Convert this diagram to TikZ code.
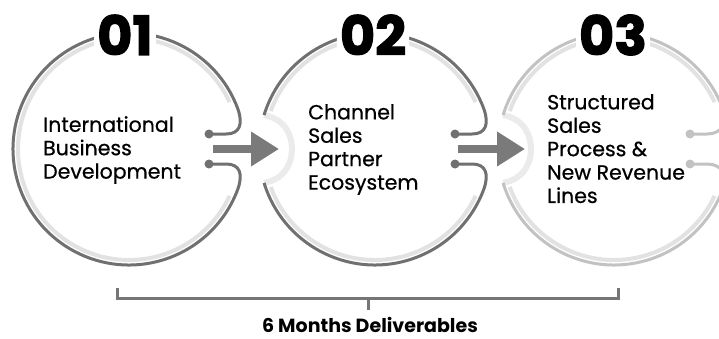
\documentclass[tikz,border=0pt]{standalone}
\usepackage{fontspec}
\setmainfont{Poppins}
\newfontfamily\medfont{Poppins}[FakeBold=0.6]
\newfontfamily\numfont{Poppins}[BoldFeatures={FakeBold=2.2}]
\usetikzlibrary{arrows.meta}
\definecolor{ringdark}{HTML}{707070}
\definecolor{ringlight}{HTML}{C2C2C2}
\definecolor{arrowgray}{HTML}{7A7A7A}
\definecolor{innerband}{HTML}{E2E2E2}
\definecolor{softshade}{HTML}{EBEBEB}
\definecolor{bracketgray}{HTML}{767676}
\tikzset{
  ring/.style={line width=3pt, draw=#1},
  band/.style={line width=4pt, draw=innerband},
  notch/.style={line width=6pt, draw=softshade},
  dotc/.style={fill=#1},
  flowarrow/.style={line width=8pt, draw=arrowgray, -{Triangle[length=28pt,width=33pt]}},
  numlabel/.style={font=\numfont\fontsize{54}{54}\bfseries, fill=white, rounded corners=12pt, inner sep=3pt, anchor=base},
  bodytext/.style={font=\medfont\fontsize{20.5}{23.4}\selectfont, align=left, anchor=north west, inner sep=0pt},
  bracket/.style={line width=3pt, draw=bracketgray},
}
\begin{document}
\begin{tikzpicture}[x=1pt,y=1pt]
\useasboundingbox (0,0) rectangle (719,338);
\clip (0,0) rectangle (719,338);
\fill[white] (0,0) rectangle (719,338);

% ---------- circle 1 ----------
\begin{scope}[shift={(129,189)}]
  \draw[band] (25:111) arc[start angle=25,end angle=335,radius=111];
  \draw[ring=ringdark] (80,15) -- (97,15) .. controls (111,15) and (114,25) .. (20:116)
     arc[start angle=20,end angle=340,radius=116]
     .. controls (114,-25) and (111,-15) .. (97,-15) -- (80,-15);
  \fill[dotc=ringdark] (80,15) circle (4.5);
  \fill[dotc=ringdark] (80,-15) circle (4.5);
\end{scope}

% ---------- circle 2 ----------
\begin{scope}[shift={(375,189)}]
  \draw[notch] (163:116) .. controls (-90,30) and (-83,14) .. (-83,0) .. controls (-83,-14) and (-90,-30) .. (197:116);
  \draw[band] (25:111) arc[start angle=25,end angle=160,radius=111];
  \draw[band] (200:111) arc[start angle=200,end angle=335,radius=111];
  \draw[ring=ringdark] (80,15) -- (97,15) .. controls (111,15) and (114,25) .. (20:116)
     arc[start angle=20,end angle=163,radius=116];
  \draw[ring=ringdark] (197:116) arc[start angle=197,end angle=340,radius=116]
     .. controls (114,-25) and (111,-15) .. (97,-15) -- (80,-15);
  \fill[dotc=ringdark] (80,15) circle (4.5);
  \fill[dotc=ringdark] (80,-15) circle (4.5);
\end{scope}

% ---------- circle 3 ----------
\begin{scope}[shift={(614,189)}]
  \draw[notch] (163:116) .. controls (-90,30) and (-83,14) .. (-83,0) .. controls (-83,-14) and (-90,-30) .. (197:116);
  \draw[band] (25:111) arc[start angle=25,end angle=160,radius=111];
  \draw[band] (200:111) arc[start angle=200,end angle=335,radius=111];
  \draw[ring=ringlight] (76,15) -- (93,15) .. controls (107,15) and (114,25) .. (20:116)
     arc[start angle=20,end angle=163,radius=116];
  \draw[ring=ringlight] (197:116) arc[start angle=197,end angle=340,radius=116]
     .. controls (114,-25) and (107,-15) .. (93,-15) -- (76,-15);
  \fill[dotc=ringlight] (76,15) circle (4.5);
  \fill[dotc=ringlight] (76,-15) circle (4.5);
\end{scope}

% ---------- arrows ----------
\coordinate (a1s) at (213,189);
\coordinate (a1e) at (279,189);
\coordinate (a2s) at (458,189);
\coordinate (a2e) at (525,189);
\draw[flowarrow] (a1s) -- (a1e);
\draw[flowarrow] (a2s) -- (a2e);

% ---------- numbers ----------
\node[numlabel] (n1) at (125,283) {01};
\node[numlabel] (n2) at (373,283) {02};
\node[numlabel] (n3) at (613,283) {03};

% ---------- texts ----------
\node[bodytext] (t1) at (43,222) {International\\Business\\Development};
\node[bodytext] (t2) at (308,234) {Channel\\Sales\\Partner\\Ecosystem};
\node[bodytext] (t3) at (547,244) {Structured\\Sales\\Process \&\\New Revenue\\Lines};

% ---------- bracket ----------
\coordinate (bl) at (117,50);
\coordinate (bL) at (117,40);
\coordinate (bR) at (618,40);
\coordinate (br) at (618,50);
\coordinate (bm) at (368,40);
\coordinate (bmd) at (368,28);
\draw[bracket] (bl) -- (bL) -- (bR) -- (br);
\draw[bracket] (bm) -- (bmd);
\node[font=\fontsize{19}{20}\bfseries, anchor=base, inner sep=0pt] (cap) at (370,6) {6 Months Deliverables};
\end{tikzpicture}
\end{document}
